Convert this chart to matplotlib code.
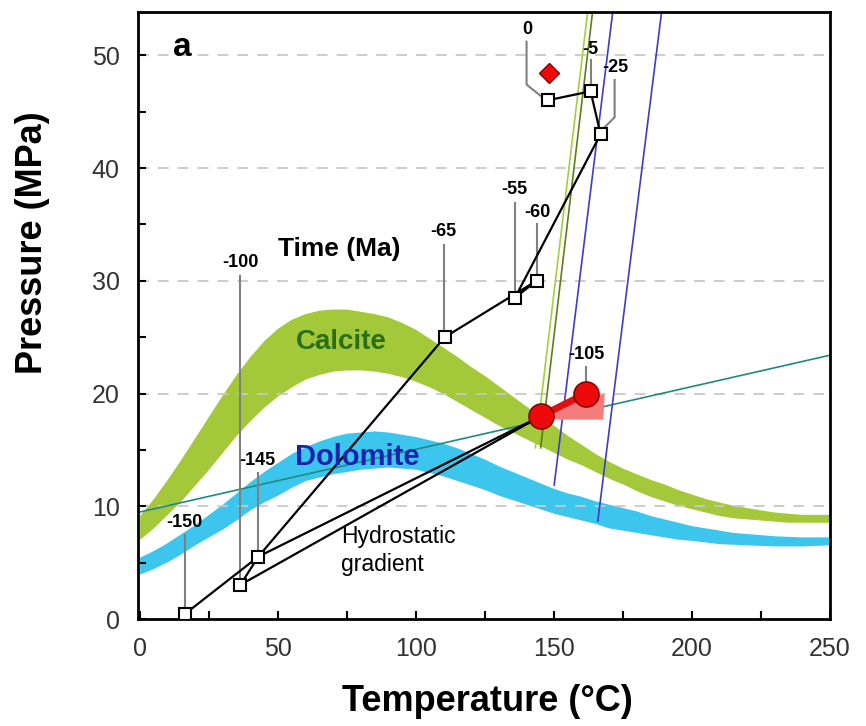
import numpy as np
import matplotlib.pyplot as plt
from matplotlib.ticker import MultipleLocator

plt.rcParams["font.family"] = ["Liberation Sans", "DejaVu Sans"]

# ── stability bands (temperature °C -> pressure MPa, upper/lower edge) ──
band_t = list(range(0, 255, 5))
calcite_hi = [9.2, 10.7, 12.4, 14.2, 16.1, 18.0, 19.9, 21.7, 23.3, 24.7, 25.8, 26.6, 27.1,
              27.4, 27.5, 27.5, 27.3, 27.1, 26.8, 26.3, 25.7, 24.9, 24.1, 23.3, 22.4, 21.6,
              20.7, 19.8, 18.9, 18.0, 17.2, 16.3, 15.5, 14.7, 14.0, 13.4, 12.9, 12.4, 12.0,
              11.5, 11.1, 10.7, 10.4, 10.1, 9.9, 9.7, 9.5, 9.4, 9.3, 9.3, 9.3]
calcite_lo = [7.1, 8.1, 9.3, 10.5, 11.9, 13.3, 14.8, 16.3, 17.6, 18.8, 19.8, 20.6, 21.3,
              21.7, 22.0, 22.1, 22.1, 22.0, 21.8, 21.5, 21.1, 20.6, 20.0, 19.3, 18.6, 17.9,
              17.2, 16.6, 16.0, 15.4, 14.8, 14.2, 13.7, 13.1, 12.5, 12.0, 11.4, 10.9, 10.5,
              10.1, 9.8, 9.5, 9.2, 9.0, 8.9, 8.8, 8.7, 8.6, 8.6, 8.6, 8.6]
dolomite_hi = [5.5, 6.1, 6.8, 7.6, 8.4, 9.3, 10.2, 11.2, 12.2, 13.1, 13.9, 14.7, 15.3,
               15.8, 16.2, 16.5, 16.6, 16.7, 16.6, 16.4, 16.2, 15.9, 15.6, 15.2, 14.7, 14.2,
               13.6, 13.1, 12.6, 12.1, 11.6, 11.2, 10.9, 10.5, 10.2, 9.9, 9.6, 9.2, 8.9,
               8.6, 8.3, 8.1, 7.9, 7.7, 7.6, 7.5, 7.4, 7.35, 7.3, 7.3, 7.3]
dolomite_lo = [4.0, 4.5, 5.1, 5.8, 6.6, 7.3, 8.0, 8.8, 9.7, 10.4, 11.0, 11.7, 12.3,
               12.6, 12.9, 13.1, 13.3, 13.4, 13.5, 13.4, 13.3, 13.0, 12.7, 12.3, 11.9, 11.5,
               11.0, 10.6, 10.2, 9.8, 9.4, 9.1, 8.8, 8.5, 8.1, 7.9, 7.7, 7.5, 7.3,
               7.1, 7.0, 6.85, 6.7, 6.65, 6.6, 6.55, 6.5, 6.5, 6.5, 6.55, 6.6]

# ── burial path nodes (age Ma -> T, P) ──
node_age = ["-150", "-145", "-100", "-65", "-55", "-60", "-25", "-5", "0"]
node_t = [16.3, 43.0, 36.5, 110.5, 136.0, 143.8, 167.0, 163.4, 147.8]
node_p = [0.45, 5.55, 3.05, 25.0, 28.5, 30.0, 43.0, 46.8, 46.0]

# red fluid inclusion points (-105 Ma)
incl_t = [145.3, 161.6]
incl_p = [18.0, 20.0]
incl_area_t = [147.5, 161.6, 168.5, 168.0, 150.0]
incl_area_p = [18.3, 20.0, 19.9, 17.7, 17.7]
diamond_t, diamond_p = 148.2, 48.4

# teal line and isochores
teal_t = [0, 250]
teal_p = [9.5, 23.4]
isochores = [  # (t_bottom, p_bottom, t_top, p_top, colour)
    (143.4, 15.2, 162.3, 53.8, "#a6cf3c"),
    (145.3, 15.2, 164.1, 53.8, "#5d7d1c"),
    (150.2, 11.9, 171.4, 53.8, "#3c3cc8"),
    (166.0, 8.7, 189.1, 53.8, "#3c3cc8"),
]

# leader lines: label position, then polyline to the node
labels = [
    ("-150", 16.3, 8.6, [(16.3, 7.5), (16.3, 1.1)]),
    ("-100", 36.5, 31.6, [(36.5, 30.4), (36.5, 3.7)]),
    ("-145", 42.8, 14.1, [(43.0, 13.0), (43.0, 6.2)]),
    ("-65", 110.0, 34.4, [(110.2, 33.2), (110.2, 25.6)]),
    ("-55", 135.8, 38.1, [(136.0, 36.9), (136.0, 29.1)]),
    ("-60", 144.0, 36.1, [(144.0, 35.0), (144.0, 30.6)]),
    ("0", 140.4, 52.3, [(140.2, 51.2), (140.2, 47.4), (146.3, 46.2)]),
    ("-5", 163.2, 50.5, [(163.4, 49.6), (163.4, 47.4)]),
    ("-25", 172.4, 48.9, [(172.1, 47.8), (172.1, 44.5), (167.6, 43.4)]),
    ("-105", 162.0, 23.5, [(161.9, 22.4), (161.9, 21.0)]),
]

fig = plt.figure(figsize=(8.66, 7.26), dpi=100)
ax = fig.add_axes([0.159, 0.147, 0.799, 0.836])

ax.fill_between(band_t, calcite_lo, calcite_hi, color="#a3c93a", lw=0, zorder=1)
ax.fill_between(band_t, dolomite_lo, dolomite_hi, color="#3cc6ee", lw=0, zorder=1)

for yv in range(10, 60, 10):
    ax.axhline(yv, color="#c8c8c8", lw=1.3, dashes=(6, 5), zorder=1.5)

ax.plot(teal_t, teal_p, color="#1f8a80", lw=1.2, zorder=2)
for t0, p0, t1, p1, c in isochores:
    ax.plot([t0, t1], [p0, p1], color=c, lw=1.2, zorder=2)

ax.fill(incl_area_t, incl_area_p, color="#f47c7c", lw=0, zorder=2.5)

pos = dict(zip(node_age, zip(node_t, node_p)))
red1 = (incl_t[0], incl_p[0])


def seg(*keys):
    xy = [pos[k] if isinstance(k, str) else k for k in keys]
    ax.plot([p[0] for p in xy], [p[1] for p in xy], color="black", lw=1.6, zorder=3)


seg("-150", "-145", "-65", "-60", "-55", "-25", "-5", "0")
seg("-100", "-145")
seg("-145", red1)
seg("-100", red1)

for text, tx, ty, path in labels:
    ax.plot([p[0] for p in path], [p[1] for p in path], color="#808080", lw=1.5, zorder=2.8)
    ax.text(tx, ty, text, fontsize=13, fontweight="bold", ha="center", va="center", zorder=4)

ax.plot(node_t, node_p, ls="none", marker="s", ms=9, mfc="white", mec="black",
        mew=1.5, zorder=4)
ax.plot(incl_t, incl_p, color="#e01010", lw=5, zorder=4)
ax.plot(incl_t, incl_p, ls="none", marker="o", ms=18, mfc="#ee0a0a", mec="#8a0000",
        mew=1.2, zorder=5)
ax.plot([diamond_t], [diamond_p], ls="none", marker="D", ms=10, mfc="#ee0a0a",
        mec="#8a0000", mew=1.0, zorder=5)

ax.text(72.5, 32.8, "Time (Ma)", fontsize=19, fontweight="bold", ha="center", va="center")
ax.text(73.2, 24.6, "Calcite", fontsize=20, fontweight="bold", color="#2a6e18",
        ha="center", va="center")
ax.text(79.0, 14.4, "Dolomite", fontsize=21, fontweight="bold", color="#1a22b0",
        ha="center", va="center")
ax.text(73.0, 6.1, "Hydrostatic\ngradient", fontsize=16.5, ha="left", va="center",
        linespacing=1.25)
ax.text(15.6, 50.7, "a", fontsize=24, fontweight="bold", ha="center", va="center")

ax.set_xlim(-0.7, 250)
ax.set_ylim(0, 53.8)
ax.xaxis.set_major_locator(MultipleLocator(50))
ax.xaxis.set_minor_locator(MultipleLocator(25))
ax.yaxis.set_major_locator(MultipleLocator(10))
ax.yaxis.set_minor_locator(MultipleLocator(5))
ax.tick_params(which="both", direction="in", length=6, width=1.5, top=False, right=False)
ax.tick_params(which="major", labelsize=18, labelcolor="#333333", pad=13)
for s in ax.spines.values():
    s.set_linewidth(2)

ax.set_xlabel("Temperature (°C)", fontsize=26, fontweight="bold")
ax.set_ylabel("Pressure (MPa)", fontsize=26, fontweight="bold")
ax.xaxis.set_label_coords(0.506, -0.107)
ax.yaxis.set_label_coords(-0.127, 0.62)

fig.savefig("out.png", dpi=100)
